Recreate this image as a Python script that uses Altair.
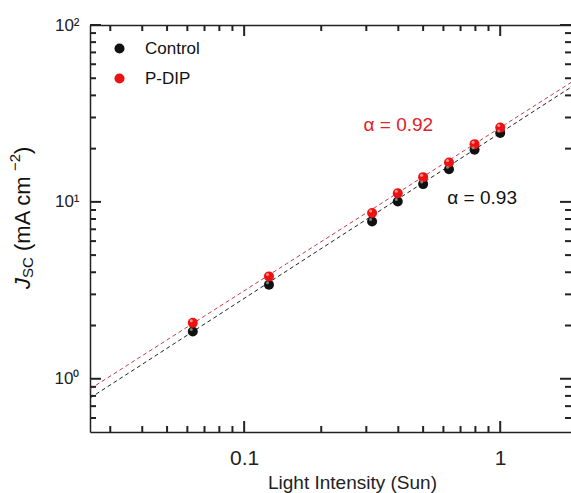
import altair as alt
import pandas as pd

# ---------------- data ----------------
intensity = [0.063, 0.125, 0.316, 0.398, 0.5, 0.631, 0.794, 1.0]
jsc_control = [1.85, 3.40, 7.75, 10.05, 12.6, 15.3, 19.7, 24.5]
jsc_pdip = [2.07, 3.79, 8.65, 11.2, 13.8, 16.7, 21.2, 26.3]
series_names = ["Control", "P-DIP"]

fit_x = [0.025, 1.89]
fit_control = [0.778, 44.5]
fit_pdip = [0.875, 47.3]

alpha_text = ["α = 0.93", "α = 0.92"]
alpha_x = [0.85, 0.40]
alpha_y = [10.5, 27.3]

x_major = [0.1, 1]
x_minor = [0.03, 0.04, 0.05, 0.06, 0.07, 0.08, 0.09,
           0.2, 0.3, 0.4, 0.5, 0.6, 0.7, 0.8, 0.9]
y_major = [1, 10, 100]
y_minor = [0.6, 0.7, 0.8, 0.9, 2, 3, 4, 5, 6, 7, 8, 9,
           20, 30, 40, 50, 60, 70, 80, 90]

X_DOMAIN = [0.025, 1.89]
Y_DOMAIN = [0.5, 100]

W, H = 481, 407

# ---------------- tables ----------------
pts = pd.DataFrame({
    "I": intensity * 2,
    "J": jsc_control + jsc_pdip,
    "series": [series_names[0]] * len(intensity) + [series_names[1]] * len(intensity),
})
fit_c = pd.DataFrame({"I": fit_x, "J": fit_control})
fit_p = pd.DataFrame({"I": fit_x, "J": fit_pdip})
ann = pd.DataFrame({"I": alpha_x, "J": alpha_y, "t": alpha_text, "series": series_names})

FONT = "Liberation Sans"
AX = "#222222"

xs = alt.Scale(type="log", domain=X_DOMAIN, nice=False)
ys = alt.Scale(type="log", domain=Y_DOMAIN, nice=False)


def domain_axis(orient, **extra):
    kw = dict(orient=orient, grid=False, domain=True, domainColor=AX, domainWidth=1.5,
              ticks=False, tickSize=0, labels=False, title=None)
    kw.update(extra)
    return alt.Axis(**kw)


x_label_axis = domain_axis(
    "bottom", values=x_major, labels=True,
    labelExpr="datum.value < 0.5 ? '0.1' : '1'", labelFont=FONT, labelFontSize=21,
    labelColor="#222", labelPadding=15, labelFlush=False, labelOverlap=False,
    title="Light Intensity (Sun)", titleFont=FONT, titleFontSize=19,
    titleFontWeight="normal", titleColor="#222", titleX=262, titleY=50,
    titleBaseline="middle")

y_label_axis = domain_axis(
    "left", values=y_major, labels=True,
    labelExpr="datum.value < 5 ? '10⁰' : datum.value < 50 ? '10¹' : '10²'",
    labelFont=FONT, labelFontSize=17, labelColor="#222", labelPadding=11,
    labelFlush=False, labelOverlap=False)

line_c = alt.Chart(fit_c).mark_line(strokeDash=[4, 3], strokeWidth=1, color="#222", clip=True).encode(
    x=alt.X("I:Q", scale=xs, axis=x_label_axis),
    y=alt.Y("J:Q", scale=ys, axis=y_label_axis),
)
line_p = alt.Chart(fit_p).mark_line(strokeDash=[4, 3], strokeWidth=1, color="#c43c4c", clip=True).encode(
    x=alt.X("I:Q", scale=xs, axis=domain_axis("top")),
    y=alt.Y("J:Q", scale=ys, axis=None),
)


# inward tick marks, placed through the same log scales
def xticks(values, size):
    d = pd.DataFrame({"v": values})
    bottom = alt.Chart(d).mark_rule(color=AX, strokeWidth=2).encode(
        x=alt.X("v:Q", scale=xs, axis=None), y=alt.value(H), y2=alt.value(H - size))
    top = alt.Chart(d).mark_rule(color=AX, strokeWidth=2).encode(
        x=alt.X("v:Q", scale=xs, axis=None), y=alt.value(0), y2=alt.value(size))
    return [bottom, top]


def yticks(values, size):
    d = pd.DataFrame({"v": values})
    left = alt.Chart(d).mark_rule(color=AX, strokeWidth=2).encode(
        y=alt.Y("v:Q", scale=ys, axis=None), x=alt.value(0), x2=alt.value(size))
    right = alt.Chart(d).mark_rule(color=AX, strokeWidth=2).encode(
        y=alt.Y("v:Q", scale=ys, axis=None), x=alt.value(W), x2=alt.value(W - size))
    return [left, right]


ticks = xticks(x_major, 11) + xticks(x_minor, 6) + yticks(y_major, 11) + yticks(y_minor, 6)

color = alt.Color("series:N", scale=alt.Scale(domain=series_names, range=["#111111", "#ee1111"]),
                  legend=alt.Legend(title=None, orient="none", legendX=21, legendY=15,
                                    labelFont=FONT, labelFontSize=17, labelColor="#111",
                                    symbolSize=100, symbolType="circle", symbolStrokeWidth=0,
                                    labelOffset=17, rowPadding=12, padding=0))

points = alt.Chart(pts).mark_circle(size=100, opacity=1).encode(
    x=alt.X("I:Q", scale=xs, axis=None),
    y=alt.Y("J:Q", scale=ys, axis=None),
    color=color,
    order=alt.Order("series:N"),
)

hl = alt.Chart(pts).mark_circle(size=9, opacity=0.8, xOffset=-1.5, yOffset=-2).encode(
    x=alt.X("I:Q", scale=xs, axis=None),
    y=alt.Y("J:Q", scale=ys, axis=None),
    color=alt.Color("series:N", scale=alt.Scale(domain=series_names, range=["#9a9a9a", "#ffb4b4"]),
                    legend=None),
)

labels = alt.Chart(ann).mark_text(font=FONT, fontSize=19, align="center", baseline="middle").encode(
    x=alt.X("I:Q", scale=xs, axis=None),
    y=alt.Y("J:Q", scale=ys, axis=None),
    text="t:N",
    color=alt.Color("series:N", scale=alt.Scale(domain=series_names, range=["#111111", "#e0202a"]),
                    legend=None),
)


# y-axis title pieces: J_SC (mA cm^-2)
def piece(txt, x, y, size, style="normal"):
    return alt.Chart(pd.DataFrame({"a": [0]})).mark_text(
        text=txt, font=FONT, fontSize=size, fontStyle=style, angle=270,
        align="left", baseline="middle", color="#111").encode(
        x=alt.value(x), y=alt.value(y))


ytitle = [
    piece("J", -67.5, 264, 22, "italic"),
    piece("SC", -62, 253, 15),
    piece("(mA cm", -67.5, 226, 22),
    piece("−2", -75, 146, 15),
    piece(")", -67.5, 129, 22),
]

chart = alt.layer(line_c, line_p, points, hl, labels, *ytitle, *ticks).resolve_axis(
    x="independent", y="independent"
).resolve_scale(color="independent").properties(
    width=W, height=H, autosize="none",
    padding={"left": 90, "top": 25, "right": 0, "bottom": 61},
).configure_view(stroke="transparent", strokeWidth=0)

chart.save("out.html", embed_options={"renderer": "svg", "actions": False})
